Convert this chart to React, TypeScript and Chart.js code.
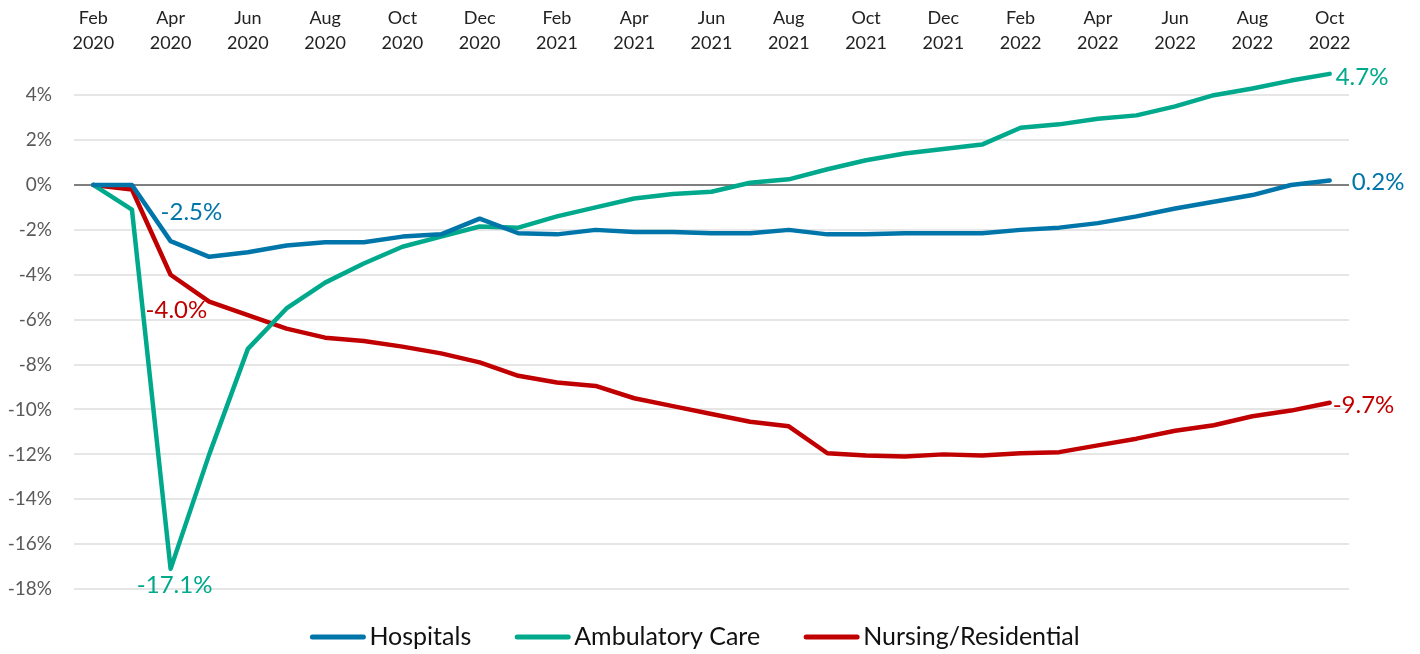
import React, { useEffect, useRef } from 'react';
import { Chart, registerables } from 'chart.js';

Chart.register(...registerables);

const monthLabels = [
  'Feb 2020', 'Mar 2020', 'Apr 2020', 'May 2020', 'Jun 2020', 'Jul 2020', 'Aug 2020', 'Sep 2020',
  'Oct 2020', 'Nov 2020', 'Dec 2020', 'Jan 2021', 'Feb 2021', 'Mar 2021', 'Apr 2021', 'May 2021',
  'Jun 2021', 'Jul 2021', 'Aug 2021', 'Sep 2021', 'Oct 2021', 'Nov 2021', 'Dec 2021', 'Jan 2022',
  'Feb 2022', 'Mar 2022', 'Apr 2022', 'May 2022', 'Jun 2022', 'Jul 2022', 'Aug 2022', 'Sep 2022',
  'Oct 2022',
];

const hospitals = [
  0, 0, -2.5, -3.2, -3.0, -2.7, -2.55, -2.55, -2.3, -2.2, -1.5, -2.15, -2.2, -2.0, -2.1, -2.1,
  -2.15, -2.15, -2.0, -2.2, -2.2, -2.15, -2.15, -2.15, -2.0, -1.9, -1.7, -1.4, -1.05, -0.75, -0.45,
  0.0, 0.2,
];

const ambulatory = [
  0, -1.1, -17.1, -12.0, -7.3, -5.5, -4.35, -3.5, -2.75, -2.3, -1.85, -1.9, -1.4, -1.0, -0.6, -0.4,
  -0.3, 0.1, 0.25, 0.7, 1.1, 1.4, 1.6, 1.8, 2.55, 2.7, 2.95, 3.1, 3.5, 4.0, 4.3, 4.65, 4.95,
];

const nursing = [
  0, -0.2, -4.0, -5.2, -5.8, -6.4, -6.8, -6.95, -7.2, -7.5, -7.9, -8.5, -8.8, -8.95, -9.5, -9.85,
  -10.2, -10.55, -10.75, -11.95, -12.05, -12.1, -12.0, -12.05, -11.95, -11.9, -11.6, -11.3, -10.95,
  -10.7, -10.3, -10.05, -9.7,
];

const yTickValues = [-18, -16, -14, -12, -10, -8, -6, -4, -2, 0, 2, 4];

const seriesNames = ['Hospitals', 'Ambulatory Care', 'Nursing/Residential'];
const seriesColors = ['#0075a9', '#00a98c', '#c00000'];

// callout labels: dataset index, point index, text
const calloutSeries = [0, 2, 1, 1, 0, 2];
const calloutPoints = [2, 2, 2, 32, 32, 32];
const calloutTexts = ['-2.5%', '-4.0%', '-17.1%', '4.7%', '0.2%', '-9.7%'];

const yTickSuffix = '%';

const FONT = 'Lato, "Open Sans", sans-serif';

// visual offsets for callouts (dx, dy, align)
const calloutStyle = [
  { dx: -10, dy: -29, align: 'left' },
  { dx: -25, dy: 35, align: 'left' },
  { dx: 4, dy: 16, align: 'center' },
  { dx: 6, dy: 3, align: 'left' },
  { dx: 22, dy: 2, align: 'left' },
  { dx: 3, dy: 3, align: 'left' },
];

const calloutPlugin = {
  id: 'callouts',
  afterDatasetsDraw(chart: any) {
    const ctx = chart.ctx;
    ctx.save();
    ctx.font = `24px ${FONT}`;
    ctx.textBaseline = 'middle';
    calloutTexts.forEach((t, i) => {
      const ds = calloutSeries[i];
      const meta = chart.getDatasetMeta(ds);
      const pt = meta.data[calloutPoints[i]];
      if (!pt) return;
      const st = calloutStyle[i];
      ctx.fillStyle = seriesColors[ds];
      ctx.textAlign = st.align;
      ctx.fillText(t, pt.x + st.dx, pt.y + st.dy);
    });
    ctx.restore();
  },
};

const legendPlugin = {
  id: 'customLegend',
  afterDraw(chart: any) {
    const ctx = chart.ctx;
    ctx.save();
    ctx.font = `25px ${FONT}`;
    ctx.textBaseline = 'middle';
    ctx.textAlign = 'left';
    const lineLen = 55;
    const gap = 4;
    const itemGap = 44;
    const widths = seriesNames.map((n) => ctx.measureText(n).width);
    const total = widths.reduce((a, w) => a + lineLen + gap + w, 0) + itemGap * (seriesNames.length - 1);
    let x = 695 - total / 2;
    const y = 637;
    seriesNames.forEach((n, i) => {
      ctx.strokeStyle = seriesColors[i];
      ctx.lineWidth = 5;
      ctx.lineCap = 'round';
      ctx.beginPath();
      ctx.moveTo(x + 2, y);
      ctx.lineTo(x + lineLen - 2, y);
      ctx.stroke();
      ctx.fillStyle = '#111';
      ctx.fillText(n, x + lineLen + gap, y);
      x += lineLen + gap + widths[i] + itemGap;
    });
    ctx.restore();
  },
};

export default function App() {
  const canvasRef = useRef<HTMLCanvasElement | null>(null);

  useEffect(() => {
    document.body.style.margin = '0';
    const canvas = canvasRef.current;
    if (!canvas) return;
    const datasets = [hospitals, ambulatory, nursing].map((vals, i) => ({
      label: seriesNames[i],
      data: vals,
      borderColor: seriesColors[i],
      backgroundColor: seriesColors[i],
      borderWidth: 4.5,
      pointRadius: 0,
      tension: 0,
      borderCapStyle: 'round' as const,
      borderJoinStyle: 'round' as const,
      fill: false,
    }));

    const chart = new Chart(canvas, {
      type: 'line',
      data: { labels: monthLabels, datasets },
      plugins: [calloutPlugin, legendPlugin],
      options: {
        animation: false,
        responsive: false,
        maintainAspectRatio: false,
        layout: { padding: { left: 0, right: 71, top: 0, bottom: 53.7 } },
        plugins: {
          legend: { display: false },
          tooltip: { enabled: false },
        },
        scales: {
          x: {
            type: 'category',
            position: 'top',
            offset: true,
            grid: { display: false, drawTicks: false },
            border: { display: false },
            ticks: {
              autoSkip: false,
              maxRotation: 0,
              minRotation: 0,
              padding: 6,
              color: '#222',
              font: { family: FONT, size: 18, lineHeight: 25 / 18 },
              callback: (_v: any, idx: number) =>
                idx % 2 === 0 ? monthLabels[idx].split(' ') : '',
            },
            afterFit: (scale: any) => {
              scale.height = 61.5;
            },
          },
          y: {
            min: -18.5,
            max: 5.5,
            grid: {
              drawTicks: false,
              lineWidth: 2,
              color: (c: any) => (c.tick && c.tick.value === 0 ? '#7f7f7f' : '#e6e6e6'),
            },
            border: { display: false },
            ticks: {
              padding: 22,
              color: '#5a5a5a',
              font: { family: FONT, size: 19 },
              callback: (v: any) => `${v}${yTickSuffix}`,
            },
            afterBuildTicks: (scale: any) => {
              scale.ticks = yTickValues.map((v) => ({ value: v }));
            },
            afterFit: (scale: any) => {
              scale.width = 74;
            },
          },
        },
      },
    } as any);

    return () => {
      chart.destroy();
    };
  }, []);

  return (
    <div style={{ width: 1420, height: 654 }}>
      <canvas ref={canvasRef} width={1420} height={654} style={{ display: 'block' }} />
    </div>
  );
}
